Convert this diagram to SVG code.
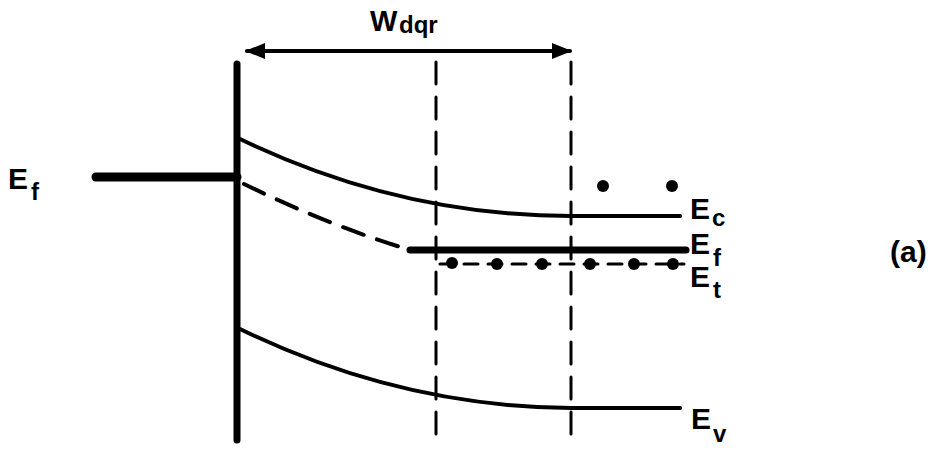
<svg xmlns="http://www.w3.org/2000/svg" width="943" height="450" viewBox="0 0 943 450">
<defs>
<marker id="ah" viewBox="0 0 10 10" refX="9" refY="5" markerWidth="5" markerHeight="5" orient="auto-start-reverse" markerUnits="strokeWidth">
<path d="M0,1 L10,5 L0,9 Z" fill="#000"/>
</marker>
<style>
.t{font-family:"Liberation Sans",Arial,sans-serif;font-weight:bold;fill:#000}
.big{font-size:30px}
.sub{font-size:24px}
.ln{fill:none;stroke:#000;stroke-linecap:round}
</style>
</defs>
<rect width="943" height="450" fill="#fff"/>
<g id="interface"><line class="ln" x1="237" y1="64" x2="237" y2="440" stroke-width="7"/></g>
<g id="metal-ef"><line class="ln" x1="96" y1="177" x2="237" y2="177" stroke-width="9"/>
<text class="t big" x="8" y="189">E</text><text class="t sub" x="31" y="200">f</text></g>
<g id="width"><line class="ln" x1="247" y1="51" x2="570" y2="51" stroke-width="4" marker-start="url(#ah)" marker-end="url(#ah)"/>
<text class="t" style="font-size:29px" x="370" y="31">W</text><text class="t sub" x="399" y="33">dqr</text></g>
<g id="boundaries">
<line class="ln" x1="436" y1="62" x2="436" y2="440" stroke-width="3" stroke-dasharray="22 13" stroke-linecap="butt"/>
<line class="ln" x1="571" y1="62" x2="571" y2="440" stroke-width="3" stroke-dasharray="22 13" stroke-linecap="butt"/>
</g>
<g id="ec"><path class="ln" d="M240,139 Q400,216 571,216 L680,216" stroke-width="4"/>
<text class="t big" x="690" y="219">E</text><text class="t sub" x="712" y="226">c</text></g>
<g id="electrons"><circle cx="603" cy="186" r="6"/><circle cx="672" cy="186" r="6"/></g>
<g id="ef-bend"><path class="ln" d="M244,184 Q330,226 410,250" stroke-width="4" stroke-dasharray="22 14" stroke-linecap="butt"/></g>
<g id="ef"><line class="ln" x1="410" y1="250" x2="686" y2="250" stroke-width="7"/>
<text class="t big" x="690" y="254">E</text><text class="t sub" x="713" y="266">f</text></g>
<g id="et"><line class="ln" x1="440" y1="264" x2="684" y2="264" stroke-width="3" stroke-dasharray="14 10" stroke-linecap="butt"/>
<circle cx="452" cy="263" r="6"/><circle cx="497" cy="264" r="6"/><circle cx="542" cy="264" r="6"/><circle cx="590" cy="264" r="6"/><circle cx="634" cy="264" r="6"/><circle cx="673" cy="264" r="6"/>
<text class="t big" x="690" y="287">E</text><text class="t sub" x="713" y="298">t</text></g>
<g id="ev"><path class="ln" d="M240,329 Q400,407 571,408 L680,408" stroke-width="4"/>
<text class="t big" x="691" y="429">E</text><text class="t sub" x="713" y="442">v</text></g>
<g id="label"><text class="t" style="font-size:30px" x="890" y="262">(a)</text></g>
</svg>
